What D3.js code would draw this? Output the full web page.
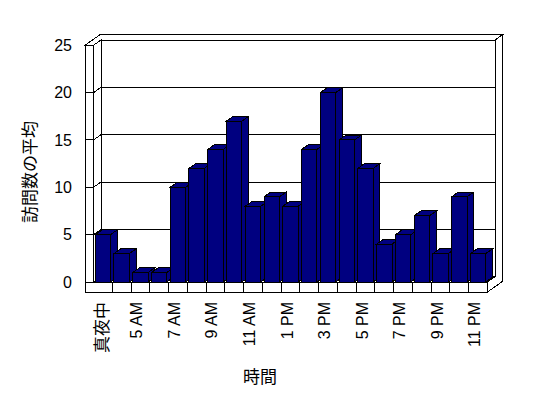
<!DOCTYPE html>
<html><head><meta charset="utf-8">
<script src="https://cdn.jsdelivr.net/npm/d3@7"></script>
<style>
html,body{margin:0;padding:0;background:#fff;}
svg{display:block;}
text{font-family:"Liberation Sans",Arial,"Noto Sans CJK JP",sans-serif;fill:#000;}
.jp{font-family:"Noto Sans CJK JP","Liberation Sans",sans-serif;}
</style></head><body>
<script>
const categories = ["真夜中","4 AM","5 AM","6 AM","7 AM","8 AM","9 AM","10 AM","11 AM","12 PM","1 PM","2 PM","3 PM","4 PM","5 PM","6 PM","7 PM","8 PM","9 PM","10 PM","11 PM"];
const visits = [5,3,1,1,10,12,14,17,8,9,8,14,20,15,12,4,5,7,3,9,3];
const yTicks = [0,5,10,15,20,25];
const shownLabels = ["真夜中","5 AM","7 AM","9 AM","11 AM","1 PM","3 PM","5 PM","7 PM","9 PM","11 PM"];
const yTitle = "訪問数の平均";
const xTitle = "時間";

const W = 548, H = 398;
const svg = d3.select("body").append("svg").attr("width", W).attr("height", H)
  .attr("shape-rendering","crispEdges");

const x = d3.scaleBand().domain(categories).range([93.5, 487.5]).paddingInner(0.18).paddingOuter(0.09);
const y = d3.scaleLinear().domain([0, 25]).range([282, 45.3]);
const DX = 7.5, DY = -5.3;          // depth unit
const wallL = 85, floorB = 292;
const x0 = x.range()[0], x1 = x.range()[1];
const yTop = y(25), y0 = y(0);

const line = d3.line();
function poly(pts, fill){
  svg.append("path").attr("d", line(pts) + "Z").attr("fill", fill).attr("stroke", "#000").attr("stroke-width", 1);
}
// right face of back wall + floor
poly([[x1+DX, yTop+DY],[x1+2*DX, yTop+2*DY],[x1+2*DX, floorB+2*DY],[x1, floorB],[x1, y0],[x1+DX, y0+DY]], "#fff");
// top faces
poly([[wallL, yTop],[x0, yTop],[x0+DX, yTop+DY],[x1+DX, yTop+DY],[x1+2*DX, yTop+2*DY],[wallL+2*DX, yTop+2*DY]], "#fff");
// back wall front face
poly([[x0+DX, yTop+DY],[x1+DX, yTop+DY],[x1+DX, y0+DY],[x0+DX, y0+DY]], "#fff");
// left wall inner face
poly([[x0, yTop],[x0+DX, yTop+DY],[x0+DX, y0+DY],[x0, y0]], "#fff");
// floor top
poly([[x0, y0],[x1, y0],[x1+DX, y0+DY],[x0+DX, y0+DY]], "#fff");
// front face (left wall + floor)
poly([[wallL, yTop],[x0, yTop],[x0, y0],[x1, y0],[x1, floorB],[wallL, floorB]], "#fff");

// gridlines
yTicks.forEach(v => {
  const yy = y(v);
  svg.append("path").attr("fill","none").attr("stroke","#000")
    .attr("d", line([[wallL, yy],[x0, yy],[x0+DX, yy+DY],[x1+DX, yy+DY]]));
});
// floor dividers
categories.forEach((c, i) => {
  if (i === 0) return;
  const xx = x0 + i * x.step();
  svg.append("line").attr("x1", xx).attr("x2", xx).attr("y1", y0).attr("y2", floorB).attr("stroke", "#000");
});

// bars
const z = 0.9;
const bw = x.bandwidth();
categories.forEach((c, i) => {
  const v = visits[i];
  const bx = x(c), by = y(v);
  const dx = DX*z, dy = DY*z;
  poly([[bx+bw, by],[bx+bw+dx, by+dy],[bx+bw+dx, y0+dy],[bx+bw, y0]], "#000080");
  poly([[bx, by],[bx+bw, by],[bx+bw+dx, by+dy],[bx+dx, by+dy]], "#000080");
  poly([[bx, by],[bx+bw, by],[bx+bw, y0],[bx, y0]], "#000080");
});

// y tick labels
svg.append("g").selectAll("text").data(yTicks).join("text")
  .attr("x", 72).attr("y", d => y(d)).attr("dy", "0.36em")
  .attr("text-anchor", "end").attr("font-size", 16).text(d => d);

// x labels
const isLatin = d => /[A-Z0-9]/.test(d);
svg.append("g").selectAll("text").data(shownLabels).join("text")
  .attr("class", d => isLatin(d) ? "" : "jp")
  .attr("transform", d => `translate(${x(d) + x.bandwidth()/2 + (isLatin(d) ? 2 : 5)},302) rotate(-90)`)
  .attr("text-anchor", "end").attr("font-size", d => isLatin(d) ? 16 : 17).text(d => d);

// titles
svg.append("text").attr("class","jp").attr("font-size", 17)
  .attr("transform", "translate(36,172) rotate(-90)").attr("text-anchor","middle").text(yTitle);
svg.append("text").attr("class","jp").attr("font-size", 17)
  .attr("x", 260).attr("y", 383).attr("text-anchor","middle").text(xTitle);
</script>
</body></html>
